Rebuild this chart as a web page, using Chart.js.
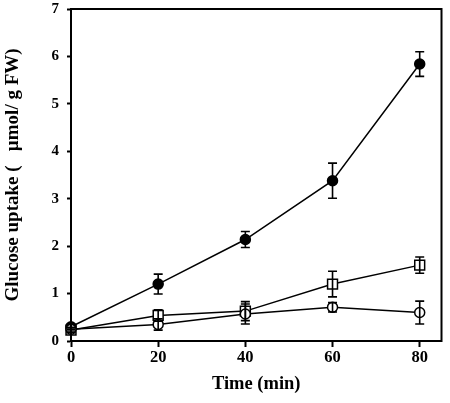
<!DOCTYPE html>
<html><head><meta charset="utf-8">
<script src="https://cdn.jsdelivr.net/npm/chart.js@4.4.1/dist/chart.umd.min.js"></script>
<style>html,body{margin:0;padding:0;background:#fff}#wrap{width:450px;height:403px}</style>
</head><body><div id="wrap"><canvas id="c" width="450" height="403"></canvas></div>
<script>
const times = [0, 20, 40, 60, 80];
const filledCircle = [0.30, 1.20, 2.14, 3.38, 5.84];
const filledCircleErr = [0.05, 0.21, 0.17, 0.37, 0.26];
const openSquare = [0.23, 0.54, 0.63, 1.20, 1.60];
const openSquareErr = [0.05, 0.12, 0.20, 0.27, 0.17];
const openCircle = [0.25, 0.35, 0.57, 0.71, 0.60];
const openCircleErr = [0.04, 0.12, 0.21, 0.10, 0.24];
const xTicks = [0, 20, 40, 60, 80];
const yTicks = [0, 1, 2, 3, 4, 5, 6, 7];

const font = {family: '"Liberation Serif", "Times New Roman", serif', weight: 'bold'};

function pts(ys) { return times.map((t, i) => ({x: t, y: ys[i]})); }

const errorBars = {
  id: 'errorBars',
  afterDatasetsDraw(chart) {
    const ctx = chart.ctx, xs = chart.scales.x, ys = chart.scales.y;
    ctx.save();
    ctx.strokeStyle = '#000';
    ctx.lineWidth = 1.6;
    chart.data.datasets.forEach(ds => {
      ds.errors.forEach((e, i) => {
        const px = xs.getPixelForValue(ds.data[i].x);
        const top = ys.getPixelForValue(ds.data[i].y + e);
        const bot = ys.getPixelForValue(ds.data[i].y - e);
        ctx.beginPath();
        ctx.moveTo(px, top); ctx.lineTo(px, bot);
        ctx.moveTo(px - 4.5, top); ctx.lineTo(px + 4.5, top);
        ctx.moveTo(px - 4.5, bot); ctx.lineTo(px + 4.5, bot);
        ctx.stroke();
      });
    });
    ctx.restore();
  }
};
const frame = {
  id: 'frame',
  afterDraw(chart) {
    const a = chart.chartArea, ctx = chart.ctx;
    ctx.save();
    ctx.strokeStyle = '#000';
    ctx.lineWidth = 2;
    ctx.strokeRect(a.left, a.top, a.right - a.left, a.bottom - a.top);
    ctx.restore();
  }
};

const common = {borderColor: '#000', borderWidth: 1.5, pointBorderColor: '#000', pointBorderWidth: 1.5, clip: false, tension: 0};

new Chart(document.getElementById('c'), {
  type: 'line',
  data: {
    datasets: [
      Object.assign({label: 'open circle', data: pts(openCircle), errors: openCircleErr, pointStyle: 'circle', pointRadius: 5, pointBackgroundColor: '#fff'}, common),
      Object.assign({label: 'open square', data: pts(openSquare), errors: openSquareErr, pointStyle: 'rect', pointRadius: 7, pointBackgroundColor: '#fff'}, common),
      Object.assign({label: 'filled circle', data: pts(filledCircle), errors: filledCircleErr, pointStyle: 'circle', pointRadius: 5, pointBackgroundColor: '#000'}, common)
    ]
  },
  options: {
    responsive: false,
    animation: false,
    layout: {padding: {left: 0, top: 9, right: 7, bottom: 0}},
    plugins: {legend: {display: false}, tooltip: {enabled: false}},
    scales: {
      x: {
        type: 'linear', min: 0, max: 85,
        afterBuildTicks(s) { s.ticks = xTicks.map(v => ({value: v})); },
        afterFit(s) { s.height = 62; s.paddingLeft = 0; s.paddingRight = 0; },
        ticks: {color: '#000', font: Object.assign({size: 16.5}, font), padding: 1, maxRotation: 0},
        grid: {drawOnChartArea: false, tickLength: 6, tickColor: '#000', tickWidth: 2},
        border: {display: true, color: '#000', width: 2},
        title: {display: true, text: 'Time (min)', color: '#000', font: Object.assign({size: 18.5}, font), padding: {top: 4, bottom: 8}}
      },
      y: {
        type: 'linear', min: 0, max: 7,
        afterBuildTicks(s) { s.ticks = yTicks.map(v => ({value: v})); },
        afterFit(s) { s.width = 71; s.paddingTop = 0; s.paddingBottom = 0; },
        ticks: {color: '#000', font: Object.assign({size: 15}, font), padding: 8},
        grid: {drawOnChartArea: false, tickLength: 4, tickColor: '#000', tickWidth: 2},
        border: {display: true, color: '#000', width: 2},
        title: {display: true, text: 'Glucose uptake (   µmol/ g FW)', color: '#000', font: Object.assign({size: 19}, font), padding: {top: 2, bottom: 4}}
      }
    }
  },
  plugins: [errorBars, frame]
});
</script></body></html>
